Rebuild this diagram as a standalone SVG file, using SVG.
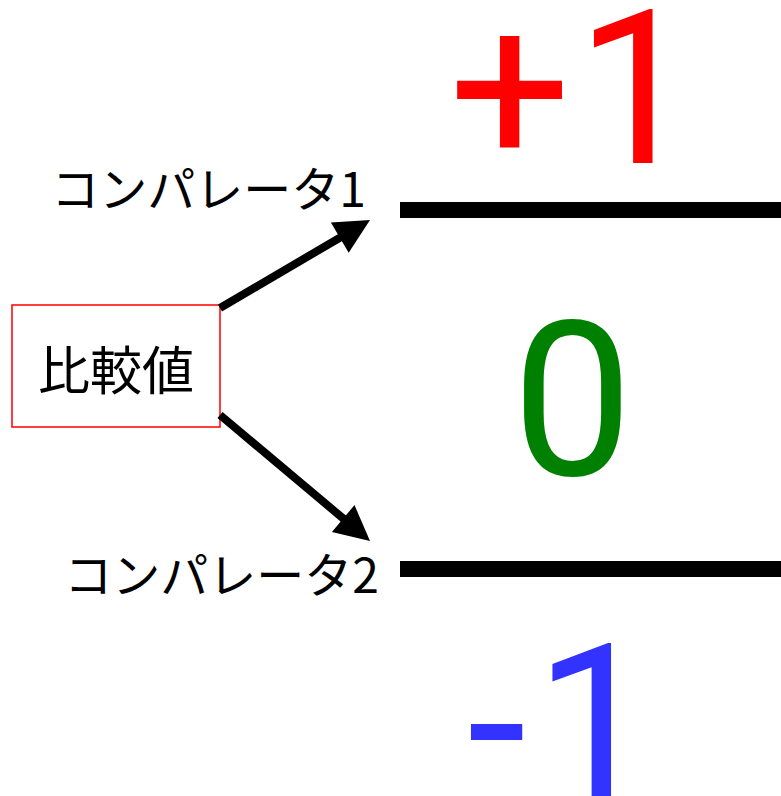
<svg xmlns="http://www.w3.org/2000/svg" width="781" height="796" viewBox="0 0 781 796">
<style>
.big{font-size:215px;font-family:Roboto,"Liberation Sans",sans-serif}
.jp{font-family:"Noto Sans CJK JP",sans-serif;fill:#000}
.lvl{stroke:#000;stroke-width:16}
.conn{stroke:#000;stroke-width:8;fill:none}
</style>
<rect width="781" height="796" fill="#fff"/>
<g id="level-plus1"><text class="big" x="449" y="163" fill="#ff0000">+<tspan dx="5">1</tspan></text></g>
<g id="level-0"><text class="big" x="512" y="475" fill="#008000">0</text></g>
<g id="level-minus1"><text class="big" x="467" y="797" fill="#3333ff">-<tspan dx="8">1</tspan></text></g>
<g id="comparator1"><line class="lvl" x1="400" y1="210" x2="781" y2="210"/><text class="jp" x="366" y="207" font-size="48" text-anchor="end">コンパレータ1</text></g>
<g id="comparator2"><line class="lvl" x1="400" y1="569" x2="781" y2="569"/><text class="jp" x="379" y="593" font-size="48" text-anchor="end">コンパレータ2</text></g>
<g id="compare-value"><rect x="12" y="305" width="208" height="122" fill="#fff" stroke="#ff0000" stroke-width="1.5"/><text class="jp" x="116" y="390" font-size="52" text-anchor="middle">比較値</text></g>
<g id="connectors">
<line class="conn" x1="220" y1="308" x2="342.4" y2="236.2"/>
<polygon points="370,220 348.7,252.8 330.9,222.6"/>
<line class="conn" x1="220" y1="415" x2="345.5" y2="520.4"/>
<polygon points="370,541 331.9,531.9 354.5,505.1"/>
</g>
</svg>
